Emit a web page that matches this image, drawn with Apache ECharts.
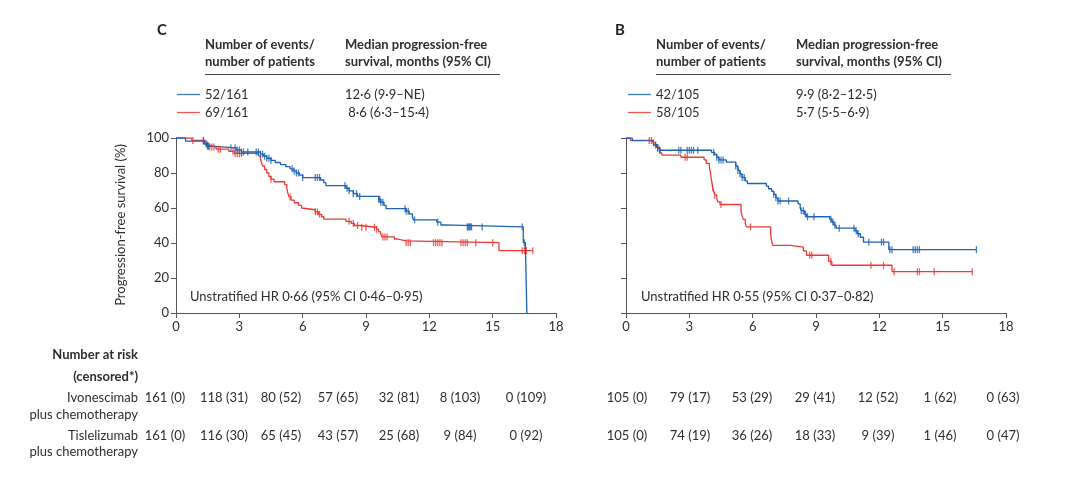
<!DOCTYPE html>
<html><head><meta charset="utf-8">
<script src="https://cdn.jsdelivr.net/npm/echarts@6/dist/echarts.min.js"></script>
<style>html,body{margin:0;padding:0;background:#fff}#c{width:1080px;height:481px}</style>
</head><body><div id="c"></div>
<script>
// ---------- DATA ----------
const xTicks = [0,3,6,9,12,15,18];
const yTicks = [0,20,40,60,80,100];
// Panel C  (Kaplan-Meier steps: [month, PFS %])
const cIvoSteps = [[0,100],[0.45,98.2],[1.35,96.5],[1.5,95.3],[1.65,94.4],[2.85,93.2],[3.1,92],[4.0,90.8],[4.15,89.6],[4.3,88.4],[4.5,87.2],[4.7,86],[4.95,84.8],[5.2,83.6],[5.4,82.4],[5.55,81.2],[5.7,80],[5.85,78.8],[6.0,77.4],[6.85,76],[7.0,74.5],[7.1,72.8],[8.05,71.3],[8.2,69.8],[8.4,68.2],[8.6,66.6],[9.6,65],[9.7,63.3],[9.85,61.5],[9.95,59.6],[10.9,58.2],[11.05,56.6],[11.2,54.8],[11.25,53.2],[12.35,51.9],[12.55,50.3],[12.65,49.2],[16.45,40.2],[16.55,38.6],[16.62,0]];
const cTisSteps = [[0,100],[0.75,98.6],[1.35,97],[1.45,95.8],[1.6,94.8],[1.9,93.6],[2.5,92.4],[2.75,91.2],[3.9,89.8],[4.0,88],[4.05,86],[4.1,84],[4.2,82],[4.3,80],[4.4,78],[4.5,76.5],[4.65,75],[5.15,73.4],[5.25,71],[5.3,68.5],[5.35,66.5],[5.45,64.5],[5.6,63],[5.8,61.5],[5.95,60],[6.0,59],[6.6,57.8],[6.75,56.4],[6.9,55],[7.0,53.6],[8.05,52.4],[8.3,51.2],[8.45,50],[8.7,49],[9.5,47.8],[9.6,46.4],[9.7,45],[9.75,43.5],[10.35,42.3],[10.45,41.2],[10.9,40.2],[15.3,35.6],[16.9,35.6]];
const cIvoCensor = [1.3,1.45,1.5,1.55,2.6,2.8,2.9,3.0,3.1,3.2,3.4,3.8,3.9,4.0,4.1,4.2,4.3,4.4,4.5,5.5,5.6,5.7,5.8,6.0,6.6,6.7,6.8,8.0,8.1,8.2,8.4,8.55,8.7,9.6,9.65,9.7,9.8,10.85,10.9,11.0,11.3,12.4,13.8,13.85,13.9,13.95,14.0,14.5,16.4,16.5,16.55];
const cTisCensor = [0.8,1.3,1.4,1.5,1.6,1.7,1.8,2.0,2.1,2.7,2.8,2.9,3.0,3.1,4.5,5.4,6.6,6.7,6.8,8.2,8.4,8.6,8.8,9.0,9.4,9.5,9.8,9.9,10.0,10.9,11.0,11.1,12.2,12.3,12.4,12.5,12.6,13.5,13.6,13.7,13.8,14.2,15.0,16.4,16.5,16.6,16.9];
// Panel B
const bIvoSteps = [[0,100],[0.3,98.5],[1.2,97.4],[1.3,96],[1.45,94.6],[1.6,93],[4.05,91.8],[4.2,90.5],[4.3,89],[4.4,87.5],[4.75,86.2],[5.2,84],[5.3,81.5],[5.4,79.5],[5.5,77.5],[5.65,75.5],[5.75,74],[6.65,72.5],[6.75,71],[6.9,69.5],[7.0,67.8],[7.1,65.8],[7.2,64],[8.15,62.4],[8.25,60],[8.3,58.5],[8.45,56.5],[8.55,55],[9.65,53.6],[9.75,52],[9.85,50.2],[9.95,48.5],[10.85,47],[10.95,45.3],[11.1,43.3],[11.25,40.5],[12.45,36.2],[16.6,36.2]];
const bTisSteps = [[0,100],[0.2,98.6],[1.3,97.2],[1.4,96],[1.5,94],[1.6,91.5],[1.7,90.2],[2.6,89],[3.7,87.5],[3.8,85.5],[3.95,83.5],[4.0,80],[4.05,76],[4.1,72],[4.15,69.5],[4.2,67.5],[4.3,65.5],[4.35,63.5],[4.45,62],[5.45,58],[5.5,55.5],[5.55,53.5],[5.65,51],[5.7,49.2],[6.85,45],[6.9,41],[6.95,38.6],[7.8,37.6],[8.4,35.5],[8.55,33],[9.6,29.5],[9.75,27.3],[12.6,23.6],[16.4,23.6]];
const bIvoCensor = [1.4,1.5,1.6,2.5,2.6,2.9,3.0,3.1,3.2,3.4,4.15,4.3,4.4,4.5,4.6,5.2,5.3,5.4,5.5,5.6,7.0,7.1,7.2,7.3,7.7,8.3,8.4,8.5,8.6,8.9,9.7,9.8,9.9,10.1,10.8,10.9,11.0,11.5,12.1,12.2,12.5,12.6,13.6,13.7,13.8,13.9,16.6];
const bTisCensor = [1.1,1.2,1.3,1.5,2.8,2.9,4.1,4.2,4.5,5.9,8.7,8.8,9.7,11.6,12.2,12.7,13.8,13.9,14.6,16.4];
// Legends / text
const cEvents = ['52/161','69/161'];
const cMedian = ['12·6 (9·9–NE)',' 8·6 (6·3–15·4)'];
const bEvents = ['42/105','58/105'];
const bMedian = ['9·9 (8·2–12·5)','5·7 (5·5–6·9)'];
const cHR = 'Unstratified HR 0·66 (95% CI 0·46–0·95)';
const bHR = 'Unstratified HR 0·55 (95% CI 0·37–0·82)';
const cRiskIvo = ['161 (0)','118 (31)','80 (52)','57 (65)','32 (81)','8 (103)','0 (109)'];
const cRiskTis = ['161 (0)','116 (30)','65 (45)','43 (57)','25 (68)','9 (84)','0 (92)'];
const bRiskIvo = ['105 (0)','79 (17)','53 (29)','29 (41)','12 (52)','1 (62)','0 (63)'];
const bRiskTis = ['105 (0)','74 (19)','36 (26)','18 (33)','9 (39)','1 (46)','0 (47)'];

// ---------- LAYOUT / STYLE ----------
const BLUE = '#1c63b4', RED = '#ee3a33';
const LBLUE = '#3c7fc6', LRED = '#f0574f';
const FONT = 'Lato, "Open Sans", sans-serif';
const TXT = '#2e2e2e';
const cRiskX = [165,224,281,338,399,460,526];
const bRiskX = [627,690,752,815,878,940,1003];

function valAt(steps, t){ let v = steps[0][1]; for (const s of steps){ if (s[0] <= t) v = s[1]; else break; } return v; }
function censorPts(steps, times){ return times.map(t => [t, valAt(steps, t)]); }

const chart = echarts.init(document.getElementById('c'), null, {renderer:'canvas'});
const axisStyle = {lineStyle:{color:'#555', width:1}};
function xAx(i){ return {gridIndex:i, type:'value', min:0, max:18, interval:3, axisLine:axisStyle, axisTick:{length:5, lineStyle:{color:'#555'}}, splitLine:{show:false}, axisLabel:{color:TXT, fontFamily:FONT, fontSize:13, margin:7}}; }
function yAx(i, showLabel){ return {gridIndex:i, type:'value', min:0, max:100, interval:20, axisLine:{show:true, lineStyle:{color:'#555', width:1}}, axisTick:{show:true, length:5, lineStyle:{color:'#555'}}, splitLine:{show:false}, axisLabel:{show:showLabel, color:TXT, fontFamily:FONT, fontSize:13, margin:7}}; }
function line(i, data, color){ return {type:'line', xAxisIndex:i, yAxisIndex:i, data, step:'end', symbol:'none', lineStyle:{color, width:1.3}, silent:true, z:3}; }
function cens(i, data, color){ return {type:'scatter', xAxisIndex:i, yAxisIndex:i, data, symbol:'rect', symbolSize:[1.3,7], itemStyle:{color}, silent:true, z:4}; }

const g = [];
function t(x,y,text,opt={}){ g.push({type:'text', x, y, style:{text, font:`${opt.weight||'normal'} ${opt.size||13}px ${FONT}`, fill:opt.fill||TXT, textAlign:opt.align||'left', textVerticalAlign:'middle'}, rotation:opt.rot||0, silent:true}); }
function ln(x1,y1,x2,y2,color,w){ g.push({type:'line', shape:{x1,y1,x2,y2}, style:{stroke:color, lineWidth:w}, silent:true}); }

// Panel headers
function header(px, letterX, letter, ev, med){
  t(letterX, 30, letter, {weight:'bold', size:15, fill:'#222'});
  t(px, 45, 'Number of events/', {weight:'bold'});
  t(px, 62, 'number of patients', {weight:'bold'});
  t(px+140, 45, 'Median progression-free', {weight:'bold'});
  t(px+140, 62, 'survival, months (95% CI)', {weight:'bold'});
  ln(px, 74.5, px+295, 74.5, '#444', 1.2);
  ln(px-28, 94.5, px-5, 94.5, LBLUE, 1.3);
  ln(px-28, 112.5, px-5, 112.5, LRED, 1.3);
  t(px, 95, ev[0]); t(px, 113, ev[1]);
  t(px+140, 95, med[0]); t(px+140, 113, med[1]);
}
header(205, 157, 'C', cEvents, cMedian);
header(656, 615, 'B', bEvents, bMedian);
t(190, 297, cHR); t(641, 297, bHR);
t(121, 225, 'Progression-free survival (%)', {rot:Math.PI/2, align:'center'});
// risk table
t(138, 355, 'Number at risk', {weight:'bold', align:'right'});
t(138, 377, '(censored*)', {weight:'bold', align:'right'});
t(138, 398, 'Ivonescimab', {align:'right'});
t(138, 415, 'plus chemotherapy', {align:'right'});
t(138, 436, 'Tislelizumab', {align:'right'});
t(138, 452, 'plus chemotherapy', {align:'right'});
cRiskIvo.forEach((s,i)=>t(cRiskX[i], 398, s, {align:'center'}));
cRiskTis.forEach((s,i)=>t(cRiskX[i], 436, s, {align:'center'}));
bRiskIvo.forEach((s,i)=>t(bRiskX[i], 398, s, {align:'center'}));
bRiskTis.forEach((s,i)=>t(bRiskX[i], 436, s, {align:'center'}));

chart.setOption({
  animation:false,
  backgroundColor:'#fff',
  grid:[{left:176, top:138, width:380, height:175}, {left:626, top:138, width:380, height:175}],
  xAxis:[xAx(0), xAx(1)],
  yAxis:[yAx(0,true), yAx(1,false)],
  series:[
    line(0, cTisSteps, RED), line(0, cIvoSteps, BLUE),
    cens(0, censorPts(cTisSteps, cTisCensor), RED), cens(0, censorPts(cIvoSteps, cIvoCensor), BLUE),
    line(1, bTisSteps, RED), line(1, bIvoSteps, BLUE),
    cens(1, censorPts(bTisSteps, bTisCensor), RED), cens(1, censorPts(bIvoSteps, bIvoCensor), BLUE)
  ],
  graphic:g
});
</script></body></html>
